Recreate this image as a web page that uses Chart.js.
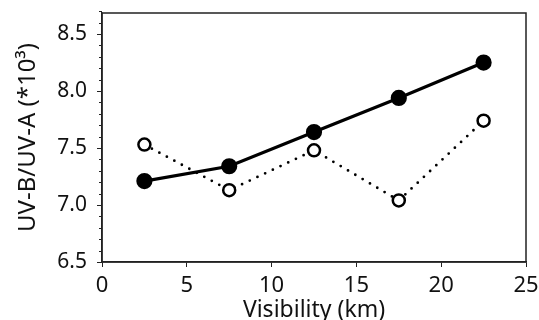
<!DOCTYPE html>
<html>
<head>
<meta charset="utf-8">
<script src="https://cdn.jsdelivr.net/npm/chart.js@4"></script>
<style>
  html, body { margin: 0; padding: 0; background: #fff; }
  #wrap { width: 539px; height: 320px; }
</style>
</head>
<body>
<div id="wrap"><canvas id="grafico" width="539" height="320"></canvas></div>
<script>
// dados
const visibility = [2.5, 7.5, 12.5, 17.5, 22.5];
const serieCheia = [7.21, 7.34, 7.64, 7.94, 8.25];
const serieAberta = [7.53, 7.13, 7.48, 7.04, 7.74];
const yTicks = [6.5, 7.0, 7.5, 8.0, 8.5];
const xTicks = [0, 5, 10, 15, 20, 25];

const toPts = (xs, ys) => xs.map((x, i) => ({ x: x, y: ys[i] }));

// moldura + ticks menores
const extras = {
  id: 'extras',
  afterDraw(chart) {
    const { ctx, chartArea: a, scales } = chart;
    ctx.save();
    ctx.strokeStyle = '#222';
    ctx.lineWidth = 1.5;
    ctx.strokeRect(a.left, a.top, a.right - a.left, a.bottom - a.top);
    ctx.lineWidth = 1;
    for (let v = 6.6; v < 8.7; v += 0.1) {
      const y = Math.round(scales.y.getPixelForValue(v)) + 0.5;
      ctx.beginPath();
      ctx.moveTo(a.left - 3, y);
      ctx.lineTo(a.left, y);
      ctx.stroke();
    }
    ctx.restore();
  }
};

new Chart(document.getElementById('grafico').getContext('2d'), {
  type: 'scatter',
  data: {
    datasets: [
      {
        data: toPts(visibility, serieAberta),
        showLine: true,
        borderColor: '#000',
        borderWidth: 2.8,
        borderDash: [0, 8.5],
        borderCapStyle: 'round',
        pointRadius: 6,
        pointBorderWidth: 2.5,
        pointBackgroundColor: '#fff',
        pointBorderColor: '#000'
      },
      {
        data: toPts(visibility, serieCheia),
        showLine: true,
        borderColor: '#000',
        borderWidth: 3.2,
        pointRadius: 6.5,
        pointBackgroundColor: '#000',
        pointBorderColor: '#000'
      }
    ]
  },
  options: {
    responsive: false,
    animation: false,
    layout: { padding: { top: 13, right: 13, left: 0, bottom: 0 } },
    plugins: { legend: { display: false }, tooltip: { enabled: false } },
    scales: {
      x: {
        type: 'linear',
        min: 0, max: 25,
        afterBuildTicks: s => { s.ticks = xTicks.map(v => ({ value: v })); },
        afterFit: s => { s.height = 58; s.paddingLeft = 0; s.paddingRight = 0; },
        grid: { drawOnChartArea: false, tickLength: 5, color: '#222' },
        border: { color: '#222', width: 1.5 },
        ticks: { color: '#111', font: { family: 'Noto Sans', size: 22 }, padding: 6, maxRotation: 0 },
        title: { display: true, text: 'Visibility (km)', color: '#111', font: { family: 'Noto Sans', size: 23 }, padding: { top: 0, bottom: -4 } }
      },
      y: {
        type: 'linear',
        min: 6.5, max: 8.685,
        afterBuildTicks: s => { s.ticks = yTicks.map(v => ({ value: v })); },
        afterFit: s => { s.width = 102; s.paddingTop = 0; s.paddingBottom = 0; },
        grid: { drawOnChartArea: false, tickLength: 5, color: '#222' },
        border: { color: '#222', width: 1.5 },
        ticks: { color: '#111', font: { family: 'Noto Sans', size: 21 }, padding: 10, callback: v => v.toFixed(1) },
        title: { display: true, text: 'UV-B/UV-A (*10³)', color: '#111', font: { family: 'Noto Sans', size: 24 }, padding: { top: 14, bottom: 0 } }
      }
    }
  },
  plugins: [extras]
});
</script>
</body>
</html>
